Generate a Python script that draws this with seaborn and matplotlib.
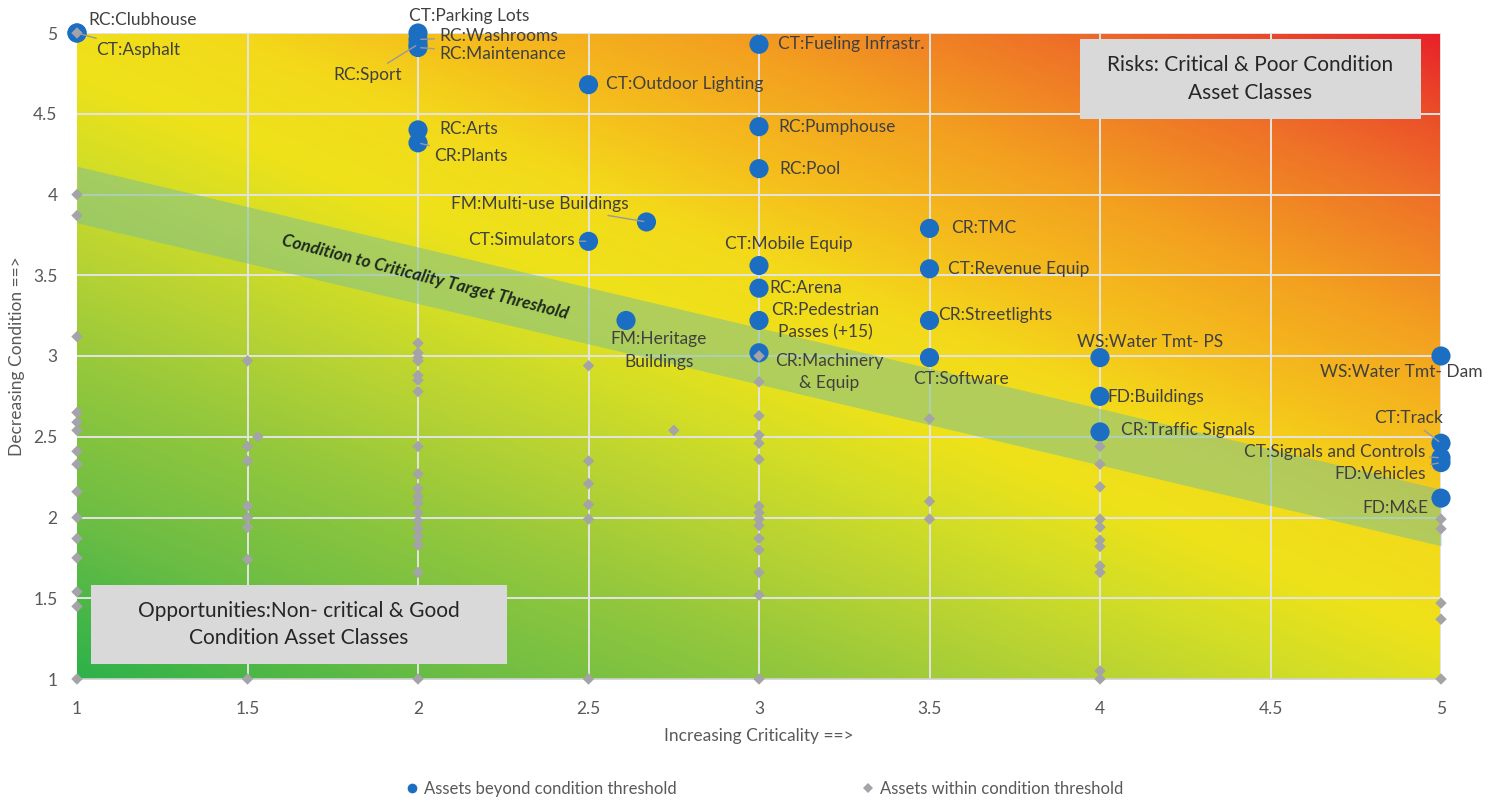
import numpy as np
import pandas as pd
import matplotlib
matplotlib.use("Agg")
import matplotlib.pyplot as plt
import seaborn as sns
from matplotlib.colors import LinearSegmentedColormap
from matplotlib.lines import Line2D

# ---- data -------------------------------------------------------------
beyond_labels = [
    "RC:Clubhouse", "CT:Asphalt", "CT:Parking Lots", "RC:Washrooms", "RC:Sport",
    "RC:Maintenance", "RC:Arts", "CR:Plants", "CT:Outdoor Lighting",
    "CT:Fueling Infrastr.", "RC:Pumphouse", "RC:Pool", "FM:Multi-use Buildings",
    "CT:Simulators", "CT:Mobile Equip", "RC:Arena", "CR:Pedestrian\nPasses (+15)",
    "CR:Machinery\n& Equip", "FM:Heritage\nBuildings", "CR:TMC", "CT:Revenue Equip",
    "CR:Streetlights", "CT:Software", "WS:Water Tmt- PS", "FD:Buildings",
    "CR:Traffic Signals", "WS:Water Tmt- Dam", "CT:Track", "CT:Signals and Controls",
    "FD:Vehicles", "FD:M&E",
]
beyond_x = [1, 1, 2, 2, 2, 2, 2, 2, 2.5, 3, 3, 3, 2.67, 2.5, 3, 3, 3, 3, 2.61,
            3.5, 3.5, 3.5, 3.5, 4, 4, 4, 5, 5, 5, 5, 5]
beyond_y = [5.0, 5.0, 5.0, 4.96, 4.93, 4.91, 4.40, 4.32, 4.68, 4.93, 4.42, 4.16,
            3.83, 3.71, 3.56, 3.42, 3.22, 3.02, 3.22, 3.79, 3.54, 3.22, 2.99,
            2.99, 2.75, 2.53, 3.0, 2.46, 2.37, 2.34, 2.12]

within_x = ([1] * 16 + [1.5] * 8 + [1.53] + [2] * 19 + [2.5] * 6 + [2.75]
            + [3] * 15 + [3.5] * 3 + [4] * 11 + [5] * 5)
within_y = [5.0, 4.0, 3.87, 3.12, 2.65, 2.59, 2.54, 2.41, 2.33, 2.16, 2.0, 1.87,
            1.75, 1.54, 1.45, 1.0,
            2.97, 2.44, 2.35, 2.07, 2.0, 1.94, 1.74, 1.0,
            2.50,
            3.08, 3.02, 2.99, 2.97, 2.88, 2.85, 2.78, 2.44, 2.27, 2.18, 2.13, 2.09,
            2.03, 1.98, 1.93, 1.88, 1.83, 1.66, 1.0,
            2.94, 2.35, 2.21, 2.08, 1.99, 1.0,
            2.54,
            3.0, 2.84, 2.63, 2.51, 2.46, 2.36, 2.07, 2.03, 1.99, 1.95, 1.87, 1.80,
            1.66, 1.52, 1.0,
            2.61, 2.10, 1.99,
            2.44, 2.33, 2.19, 1.99, 1.94, 1.86, 1.82, 1.70, 1.66, 1.05, 1.0,
            1.99, 1.93, 1.47, 1.37, 1.0]

x_ticks = [1, 1.5, 2, 2.5, 3, 3.5, 4, 4.5, 5]
y_ticks = [1, 1.5, 2, 2.5, 3, 3.5, 4, 4.5, 5]

# target threshold band: centre line and half-width
band_intercept, band_slope, band_half = 4.5, -0.5, 0.175

# label placement: (dx px, dy px, horizontal alignment, leader line)
label_style = {
    "RC:Clubhouse": (11, 13, "left", False),
    "CT:Asphalt": (19, -17, "left", True),
    "CT:Parking Lots": (-9, 17, "left", False),
    "RC:Washrooms": (21, 3, "left", True),
    "RC:Sport": (-50, -31, "center", True),
    "RC:Maintenance": (21, -6, "left", True),
    "RC:Arts": (21, 1, "left", False),
    "CR:Plants": (16, -13, "left", True),
    "CT:Outdoor Lighting": (18, 1, "left", False),
    "CT:Fueling Infrastr.": (19, 0, "left", False),
    "RC:Pumphouse": (19, 0, "left", False),
    "RC:Pool": (20, 0, "left", False),
    "FM:Multi-use Buildings": (-18, 18, "right", True),
    "CT:Simulators": (-14, 1, "right", True),
    "CT:Mobile Equip": (30, 22, "center", False),
    "RC:Arena": (10, 0, "left", False),
    "CR:Pedestrian\nPasses (+15)": (66, -1, "center", False),
    "CR:Machinery\n& Equip": (70, -19, "center", False),
    "FM:Heritage\nBuildings": (33, -30, "center", False),
    "CR:TMC": (22, 0, "left", False),
    "CT:Revenue Equip": (19, 0, "left", False),
    "CR:Streetlights": (9, 5, "left", False),
    "CT:Software": (31, -21, "center", False),
    "WS:Water Tmt- PS": (-23, 16, "left", False),
    "FD:Buildings": (7, -1, "left", False),
    "CR:Traffic Signals": (21, 2, "left", False),
    "WS:Water Tmt- Dam": (42, -16, "right", False),
    "CT:Track": (2, 25, "right", True),
    "CT:Signals and Controls": (-16, 6, "right", True),
    "FD:Vehicles": (-15, -11, "right", True),
    "FD:M&E": (-13, -10, "right", False),
}

# ---- styling ----------------------------------------------------------
sns.set_theme(style="white")
plt.rcParams["font.family"] = ["Lato", "DejaVu Sans"]

BLUE = "#1B6EC2"
GREY_PT = "#A3A3A8"
TEXT = "#404040"
TICK = "#595959"

fig = plt.figure(figsize=(14.91, 8.02), dpi=100)
ax = fig.add_axes([77 / 1491, 1 - 679 / 802, (1441 - 77) / 1491, (679 - 33) / 802])

# heat-map background: diagonal gradient from green (good / non-critical)
# through yellow to red (poor / critical)
stops = [(0.0, "#2DB24A"), (0.13, "#6CBD44"), (0.25, "#92C73D"), (0.35, "#B8D333"),
         (0.43, "#D4DE25"), (0.5, "#EEE21A"), (0.58, "#F3DA1A"), (0.65, "#F5C01C"),
         (0.75, "#F3A020"), (0.87, "#EE6E28"), (0.94, "#EB4A29"), (1.0, "#E8212A")]
cmap = LinearSegmentedColormap.from_list("risk", stops)
g = np.linspace(0, 1, 500)
U, V = np.meshgrid(g, g)
T = (0.875 * U + V) / 1.875
ax.imshow(T, extent=[1, 5, 1, 5], origin="lower", cmap=cmap, vmin=0, vmax=1,
          aspect="auto", interpolation="bilinear", zorder=0)

ax.set_xlim(1, 5)
ax.set_ylim(1, 5)
ax.set_xticks(x_ticks)
ax.set_yticks(y_ticks)
ax.set_xticklabels([f"{t:g}" for t in x_ticks])
ax.set_yticklabels([f"{t:g}" for t in y_ticks])
ax.tick_params(axis="both", length=0, labelsize=12.5, colors=TICK)
ax.tick_params(axis="x", pad=16)
ax.tick_params(axis="y", pad=14)
for v in x_ticks[1:]:
    ax.axvline(v, color="#E4E4E4", lw=1.4, zorder=1)
for v in y_ticks[1:]:
    ax.axhline(v, color="#E4E4E4", lw=1.4, zorder=1)
for s in ["top", "right", "left"]:
    ax.spines[s].set_visible(False)
ax.spines["bottom"].set_color("#D0D0D0")
ax.spines["bottom"].set_linewidth(1.2)

# threshold band
bx = np.array([1.0, 5.0])
centre = band_intercept + band_slope * bx
ax.fill_between(bx, centre - band_half, centre + band_half, color="#80C090",
                alpha=0.55, lw=0, zorder=1.5)
ax.text(2.02, 3.49, "Condition to Criticality Target Threshold", rotation=-14.5,
        rotation_mode="anchor", ha="center", va="center", fontsize=12.5,
        fontweight="bold", fontstyle="italic", color="#1E2A1E", zorder=2)

# points
beyond = pd.DataFrame({"criticality": beyond_x, "condition": beyond_y, "label": beyond_labels})
within = pd.DataFrame({"criticality": within_x, "condition": within_y})
sns.scatterplot(data=beyond, x="criticality", y="condition", ax=ax, color=BLUE, s=190,
                edgecolor="none", linewidth=0, zorder=3, clip_on=False, legend=False)
sns.scatterplot(data=within, x="criticality", y="condition", ax=ax, color=GREY_PT,
                marker="D", s=34, edgecolor="none", linewidth=0, zorder=4,
                clip_on=False, legend=False)

for _, row in beyond.iterrows():
    dx, dy, ha, leader = label_style[row["label"]]
    kw = {}
    if leader:
        kw["arrowprops"] = dict(arrowstyle="-", color="#9A9A9A", lw=1.0,
                                shrinkA=1, shrinkB=2)
    ax.annotate(row["label"], (row["criticality"], row["condition"]),
                xytext=(dx, dy), textcoords="offset pixels", ha=ha, va="center",
                fontsize=12.5, color=TEXT, linespacing=1.5, annotation_clip=False,
                zorder=5, **kw)

# quadrant call-outs
ax.add_patch(plt.Rectangle((3.94, 4.47), 1.0, 0.49, fc="#D9D9D9", ec="none", zorder=2.5))
ax.text(4.44, 4.715, "Risks: Critical & Poor Condition\nAsset Classes", ha="center",
        va="center", fontsize=15, color="#262626", linespacing=1.45, zorder=2.6)
ax.add_patch(plt.Rectangle((1.04, 1.09), 1.22, 0.49, fc="#D9D9D9", ec="none", zorder=2.5))
ax.text(1.65, 1.335, "Opportunities:Non- critical & Good\nCondition Asset Classes",
        ha="center", va="center", fontsize=15, color="#262626", linespacing=1.45,
        zorder=2.6)

ax.set_xlabel("Increasing Criticality ==>", fontsize=12.5, color=TICK, labelpad=8)
ax.set_ylabel("Decreasing Condition ==>", fontsize=12.5, color=TICK, labelpad=6)

handles = [
    Line2D([], [], marker="o", ls="none", color=BLUE, markersize=7, markeredgewidth=0),
    Line2D([], [], marker="D", ls="none", color=GREY_PT, markersize=5, markeredgewidth=0),
]
fig.legend(handles, ["Assets beyond condition threshold", "Assets within condition threshold"],
           loc="center", bbox_to_anchor=(0.512, 0.016), ncol=2, frameon=False,
           fontsize=12, labelcolor=TICK, handletextpad=0.2, columnspacing=11,
           handlelength=1.0)

fig.savefig("out.png", dpi=100)
